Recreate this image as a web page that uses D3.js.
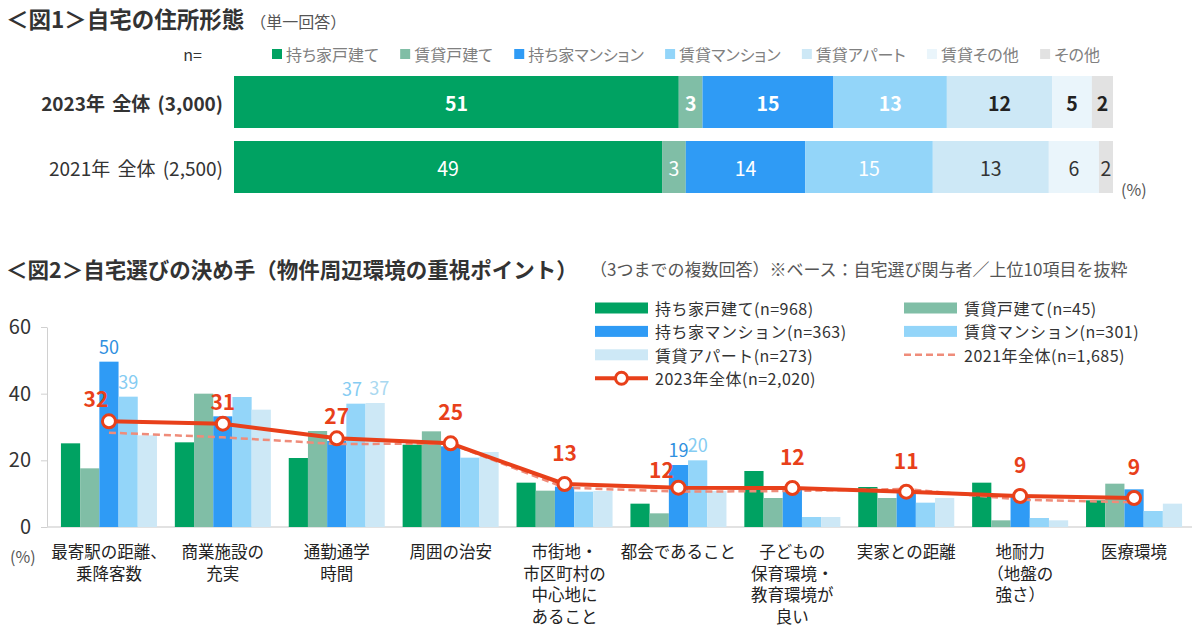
<!DOCTYPE html>
<html lang="ja">
<head>
<meta charset="utf-8">
<title>自宅の住所形態 / 自宅選びの決め手</title>
<script src="https://cdn.jsdelivr.net/npm/d3@7"></script>
<style>
  html, body { margin: 0; padding: 0; background: #fff; }
  svg { display: block; font-family: 'Noto Sans CJK JP', 'Noto Sans', sans-serif; }
</style>
</head>
<body>
<div id="chart"></div>
<script>
// ── Data: 図1 自宅の住所形態 (%) ───────────────────────────────
const SHARE_SERIES = ['持ち家戸建て', '賃貸戸建て', '持ち家マンション', '賃貸マンション', '賃貸アパート', '賃貸その他', 'その他'];
const SHARE_ROWS   = ['2023年 全体 (3,000)', '2021年 全体 (2,500)'];
const SHARE_2023   = [50.6, 2.7, 14.9, 12.9, 12.0, 4.5, 2.4];
const SHARE_2021   = [48.7, 2.7, 13.6, 14.5, 13.2, 5.7, 1.6];

// ── Data: 図2 自宅選びの決め手 (%) ─────────────────────────────
const FACTORS = [
  '最寄駅の距離、\n乗降客数', '商業施設の\n充実', '通勤通学\n時間', '周囲の治安',
  '市街地・\n市区町村の\n中心地に\nあること', '都会であること', '子どもの\n保育環境・\n教育環境が\n良い',
  '実家との距離', '地耐力\n（地盤の\n強さ）', '医療環境'
];
const HOUSE_TYPES  = ['持ち家戸建て(n=968)', '賃貸戸建て(n=45)', '持ち家マンション(n=363)', '賃貸マンション(n=301)', '賃貸アパート(n=273)'];
const OWN_HOUSE    = [25.1, 25.4, 20.7, 24.7, 13.3, 7.0, 16.8, 12.0, 13.3, 8.0];
const RENT_HOUSE   = [17.6, 40.0, 28.8, 28.7, 10.9, 4.1, 8.7, 8.7, 2.0, 13.0];
const OWN_MANSION  = [49.6, 33.2, 25.8, 24.2, 12.1, 18.6, 11.5, 10.5, 9.0, 11.3];
const RENT_MANSION = [39.1, 39.0, 37.0, 20.8, 10.6, 20.0, 3.0, 7.3, 2.7, 4.8];
const RENT_APART   = [27.5, 35.2, 37.2, 22.5, 10.8, 10.8, 3.0, 8.7, 2.0, 7.0];
const TOTAL_2023   = [31.7, 31.0, 26.6, 25.1, 12.9, 11.8, 11.7, 10.6, 9.3, 8.7];
const TOTAL_2021   = [28.3, 26.9, 24.9, 25.0, 11.8, 10.6, 10.8, 11.4, 8.2, 7.4];
const LABEL_2023   = '2023年全体(n=2,020)';
const LABEL_2021   = '2021年全体(n=1,685)';
// bars whose value is printed: [factor index, house type index]
const BAR_LABELS   = [[0, 2], [0, 3], [2, 3], [2, 4], [5, 2], [5, 3]];

(function () {
  'use strict';

  const W = 1200, H = 631;
  const COLORS = ['#00a262', '#80bea6', '#2f9bf5', '#93d5f9', '#cde8f6', '#eaf5fb', '#e2e2e2'];
  const RED = '#e8401a';
  const DASH = '#ef8c7a';
  const TEXT = '#333';

  const svg = d3.select('#chart').append('svg')
    .attr('width', W).attr('height', H)
    .attr('viewBox', `0 0 ${W} ${H}`);

  // ── 図1 title ──────────────────────────────────────────────────
  const t1 = svg.append('text').attr('x', 6).attr('y', 28)
    .attr('fill', TEXT).attr('font-size', 22.5).attr('font-weight', 700);
  t1.append('tspan').text('＜図1＞自宅の住所形態');
  t1.append('tspan').attr('dx', 6).attr('font-size', 16).attr('font-weight', 400)
    .attr('fill', '#555').text('（単一回答）');

  // ── 図1 legend ─────────────────────────────────────────────────
  svg.append('text').attr('x', 202).attr('y', 54).attr('text-anchor', 'end')
    .attr('dominant-baseline', 'central').attr('fill', TEXT).attr('font-size', 16).text('n=');

  const leg1 = svg.append('g');
  const items1 = SHARE_SERIES.map((s, i) => {
    const g = leg1.append('g');
    g.append('rect').attr('y', 49).attr('width', 10).attr('height', 10).attr('fill', COLORS[i]);
    const txt = g.append('text').attr('x', 14).attr('y', 54)
      .attr('dominant-baseline', 'central').attr('fill', '#808080')
      .attr('font-size', 16).style('font-feature-settings', '"palt"').text(s);
    return { g, w: 14 + txt.node().getComputedTextLength() };
  });
  const legStart = 272, legEnd = 1100;
  const gap1 = (legEnd - legStart - d3.sum(items1, d => d.w)) / (items1.length - 1);
  let lx = legStart;
  items1.forEach(it => { it.g.attr('transform', `translate(${lx},0)`); lx += it.w + gap1; });

  // ── 図1 stacked bars ───────────────────────────────────────────
  const x1 = d3.scaleLinear().domain([0, 100]).range([234, 1113]);
  const y1 = d3.scaleBand().domain(SHARE_ROWS).range([76, 193]).paddingInner(0.2);

  const table = SHARE_ROWS.map((r, ri) => {
    const vals = ri === 0 ? SHARE_2023 : SHARE_2021;
    const o = { row: r };
    SHARE_SERIES.forEach((s, i) => { o[s] = vals[i]; });
    return o;
  });
  const stacked = d3.stack().keys(SHARE_SERIES)(table);

  const seg = svg.append('g').selectAll('g')
    .data(stacked).join('g')
    .attr('fill', (d, i) => COLORS[i]);

  seg.selectAll('rect')
    .data(d => d)
    .join('rect')
    .attr('x', d => x1(d[0]))
    .attr('y', d => y1(d.data.row))
    .attr('width', d => x1(d[1]) - x1(d[0]))
    .attr('height', y1.bandwidth());

  stacked.forEach((layer, si) => {
    layer.forEach((d, ri) => {
      svg.append('text')
        .attr('x', (x1(d[0]) + x1(d[1])) / 2)
        .attr('y', y1(d.data.row) + y1.bandwidth() / 2)
        .attr('text-anchor', 'middle')
        .attr('dominant-baseline', 'central')
        .attr('font-size', 19.5)
        .attr('font-weight', ri === 0 ? 700 : 400)
        .attr('fill', si < 4 ? '#fff' : (ri === 0 ? '#222' : '#333'))
        .text(Math.round(d[1] - d[0]));
    });
  });

  SHARE_ROWS.forEach((r, ri) => {
    svg.append('text').attr('x', 223).attr('y', y1(r) + y1.bandwidth() / 2)
      .attr('text-anchor', 'end').attr('dominant-baseline', 'central')
      .attr('font-size', 19).attr('font-weight', ri === 0 ? 700 : 400)
      .attr('fill', TEXT).attr('word-spacing', 3).text(r);
  });

  svg.append('text').attr('x', 1121).attr('y', 189).attr('dominant-baseline', 'central')
    .attr('font-size', 16).attr('fill', '#555').text('(%)');

  // ── 図2 title ──────────────────────────────────────────────────
  svg.append('text').attr('x', 6).attr('y', 278)
    .attr('fill', TEXT).attr('font-size', 21.5).attr('font-weight', 700)
    .text('＜図2＞自宅選びの決め手（物件周辺環境の重視ポイント）');
  svg.append('text').attr('x', 590).attr('y', 276)
    .attr('fill', '#555').attr('font-size', 17)
    .text('（3つまでの複数回答）※ベース：自宅選び関与者／上位10項目を抜粋');

  // ── 図2 scales / axes ──────────────────────────────────────────
  const x2 = d3.scaleBand().domain(FACTORS).range([52, 1191]).paddingInner(0.157).paddingOuter(0.0785);
  const xs = d3.scaleBand().domain(d3.range(HOUSE_TYPES.length)).range([0, x2.bandwidth()]);
  const y2 = d3.scaleLinear().domain([0, 60]).range([527, 327]);
  const cx = i => x2(FACTORS[i]) + x2.bandwidth() / 2;

  const yAxis = svg.append('g').attr('transform', 'translate(47,0)')
    .call(d3.axisLeft(y2).tickValues([0, 20, 40, 60]).tickSize(6).tickSizeOuter(0).tickPadding(10));
  yAxis.select('.domain').attr('stroke', '#d0d0d0');
  yAxis.selectAll('.tick line').attr('stroke', '#d0d0d0');
  yAxis.selectAll('.tick text').attr('font-size', 20).attr('fill', TEXT)
    .attr('font-family', "'Noto Sans CJK JP', sans-serif");

  svg.append('line').attr('x1', 47).attr('x2', 1192)
    .attr('y1', y2(0)).attr('y2', y2(0)).attr('stroke', '#d9d9d9').attr('stroke-width', 1.5);

  // ── 図2 bars ───────────────────────────────────────────────────
  const SERIES2 = [OWN_HOUSE, RENT_HOUSE, OWN_MANSION, RENT_MANSION, RENT_APART];
  const bars = svg.append('g');
  SERIES2.forEach((vals, si) => {
    bars.append('g').attr('fill', COLORS[si])
      .selectAll('rect').data(vals).join('rect')
      .attr('x', (d, i) => x2(FACTORS[i]) + xs(si))
      .attr('y', d => y2(d))
      .attr('width', xs.bandwidth())
      .attr('height', d => y2(0) - y2(d));
  });

  const BAR_LABEL_COLORS = ['#00a262', '#80bea6', '#2f90e0', '#85ccf2', '#a9d8f0'];
  // the two 37s sit side by side, so they are pushed apart a little
  const BAR_NUDGE = { '2,3': -4, '2,4': 4 };
  BAR_LABELS.forEach(([ci, si]) => {
    const v = SERIES2[si][ci];
    svg.append('text')
      .attr('x', x2(FACTORS[ci]) + xs(si) + xs.bandwidth() / 2 + (BAR_NUDGE[ci + ',' + si] || 0))
      .attr('y', y2(v) - 8)
      .attr('text-anchor', 'middle')
      .attr('font-size', 18)
      .attr('fill', BAR_LABEL_COLORS[si])
      .text(Math.round(v));
  });

  // ── 図2 lines ──────────────────────────────────────────────────
  const line = d3.line().x((d, i) => cx(i)).y(d => y2(d));

  svg.append('path').datum(TOTAL_2021)
    .attr('fill', 'none').attr('stroke', DASH).attr('stroke-width', 2.5)
    .attr('stroke-dasharray', '7,4').attr('d', line);

  svg.append('path').datum(TOTAL_2023)
    .attr('fill', 'none').attr('stroke', RED).attr('stroke-width', 4)
    .attr('stroke-linejoin', 'round').attr('d', line);

  svg.append('g').selectAll('circle').data(TOTAL_2023).join('circle')
    .attr('cx', (d, i) => cx(i)).attr('cy', d => y2(d)).attr('r', 6.5)
    .attr('fill', '#fff').attr('stroke', RED).attr('stroke-width', 3);

  // label nudges [dx, dy] where the original moved a label to dodge bars
  const NUDGE = { 0: [-13, 9], 1: [0, 9], 2: [0, 9], 5: [-17, 13] };
  svg.append('g').selectAll('text').data(TOTAL_2023).join('text')
    .attr('x', (d, i) => cx(i) + (NUDGE[i] ? NUDGE[i][0] : 0))
    .attr('y', (d, i) => y2(d) - 23 + (NUDGE[i] ? NUDGE[i][1] : 0))
    .attr('text-anchor', 'middle')
    .attr('font-size', 21).attr('font-weight', 700).attr('fill', RED)
    .text(d => Math.round(d));

  // ── 図2 x labels ───────────────────────────────────────────────
  FACTORS.forEach((f, i) => {
    const t = svg.append('text').attr('x', cx(i)).attr('y', 558)
      .attr('text-anchor', 'middle').attr('font-size', 16.5).attr('fill', '#222');
    f.split('\n').forEach((ln, li) => {
      t.append('tspan').attr('x', cx(i)).attr('dy', li === 0 ? 0 : 21.7).text(ln);
    });
  });
  svg.append('text').attr('x', 10).attr('y', 556).attr('dominant-baseline', 'central')
    .attr('font-size', 16).attr('fill', '#555').text('(%)');

  // ── 図2 legend ─────────────────────────────────────────────────
  const leg2 = svg.append('g').attr('font-size', 16).attr('fill', TEXT)
    .attr('letter-spacing', 0.5);
  const colX = [595, 904];
  const rowY = r => 308 + r * 23.4;
  function legendText(c, r, label) {
    leg2.append('text').attr('x', colX[c] + 60).attr('y', rowY(r))
      .attr('dominant-baseline', 'central').text(label);
  }
  HOUSE_TYPES.forEach((h, i) => {
    const c = i % 2, r = Math.floor(i / 2);
    leg2.append('rect').attr('x', colX[c]).attr('y', rowY(r) - 5.5)
      .attr('width', 53).attr('height', 11).attr('fill', COLORS[i]);
    legendText(c, r, h);
  });
  leg2.append('line').attr('x1', colX[1]).attr('x2', colX[1] + 53)
    .attr('y1', rowY(2)).attr('y2', rowY(2))
    .attr('stroke', DASH).attr('stroke-width', 2.5).attr('stroke-dasharray', '7,4');
  legendText(1, 2, LABEL_2021);
  leg2.append('line').attr('x1', colX[0]).attr('x2', colX[0] + 53)
    .attr('y1', rowY(3)).attr('y2', rowY(3))
    .attr('stroke', RED).attr('stroke-width', 4);
  leg2.append('circle').attr('cx', colX[0] + 26.5).attr('cy', rowY(3)).attr('r', 6)
    .attr('fill', '#fff').attr('stroke', RED).attr('stroke-width', 3);
  legendText(0, 3, LABEL_2023);
})();
</script>
</body>
</html>
